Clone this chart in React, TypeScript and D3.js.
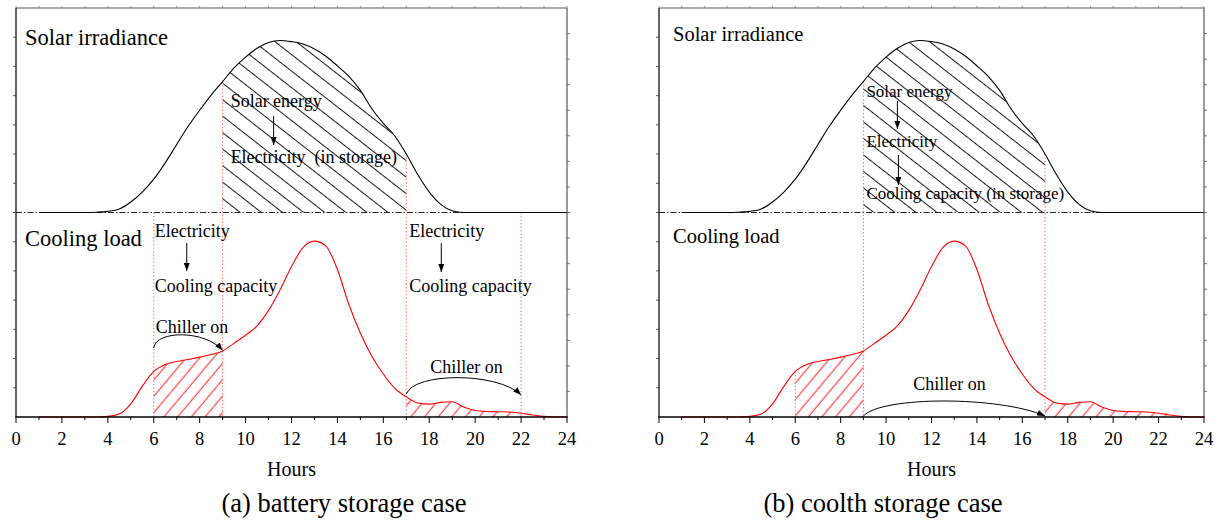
import React from 'react';
import * as d3 from 'd3';

const hours = [1, 1.5, 2, 2.5, 3, 3.5, 4, 4.5, 5, 5.5, 6, 6.5, 7, 7.5, 8, 8.5, 9, 9.5, 10, 10.5, 11, 11.5, 12, 12.5, 13, 13.5, 14, 14.5, 15, 15.5, 16, 16.5, 17, 17.5, 18, 18.5, 19, 19.5, 20, 20.5, 21, 21.5, 22, 22.5, 23, 23.5, 24];
const solarIrradiance = [0, 0, 0, 0, 0, 0.01, 0.04, 0.12, 0.36, 0.70, 1.14, 1.70, 2.33, 2.95, 3.50, 4.02, 4.48, 4.95, 5.32, 5.62, 5.82, 5.89, 5.85, 5.77, 5.60, 5.35, 5.02, 4.66, 4.18, 3.55, 3.05, 2.62, 2.00, 1.30, 0.70, 0.28, 0.06, 0, 0, 0, 0, 0, 0, 0, 0, 0, 0];
const coolingLoad = [0, 0, 0, 0, 0, 0, 0.02, 0.10, 0.45, 1.05, 1.56, 1.80, 1.90, 1.97, 2.05, 2.14, 2.26, 2.53, 2.80, 3.12, 3.65, 4.35, 5.15, 5.80, 6.02, 5.85, 5.05, 3.85, 2.87, 2.08, 1.47, 0.98, 0.69, 0.48, 0.44, 0.50, 0.52, 0.34, 0.22, 0.19, 0.18, 0.17, 0.13, 0.07, 0.02, 0, 0];
const xTickValues = [0, 2, 4, 6, 8, 10, 12, 14, 16, 18, 20, 22, 24];
const xTickLabels = ['0', '2', '4', '6', '8', '10', '12', '14', '16', '18', '20', '22', '24'];
const captions = ['(a) battery storage case', '(b) coolth storage case'];

const TOP = 8;
const MID = 212.5;
const BOT = 417;
const FONT = '"Liberation Serif", "Times New Roman", Times, serif';

const valAt = (arr: number[], h: number) => arr[hours.indexOf(h)];

type Variant = 'a' | 'b';

function Panel({ id, left, right, variant, captionX }: { id: string; left: number; right: number; variant: Variant; captionX: number }) {
  const x = d3.scaleLinear().domain([0, 24]).range([left, right]);
  const yU = d3.scaleLinear().domain([0, 7]).range([MID, TOP]);
  const yL = d3.scaleLinear().domain([0, 7]).range([BOT, MID]);
  const yLeftAxis = d3.scaleLinear().domain([0, 14]).range([BOT, TOP]);
  const yRightAxis = d3.scaleLinear().domain([0, 16]).range([BOT, TOP]);

  const solarPts: [number, number][] = hours.map((h, i) => [h, solarIrradiance[i]]);
  const coolPts: [number, number][] = hours.map((h, i) => [h, coolingLoad[i]]);

  const lineU = d3.line<[number, number]>().x(d => x(d[0])).y(d => yU(d[1])).curve(d3.curveMonotoneX);
  const areaU = d3.area<[number, number]>().x(d => x(d[0])).y0(MID).y1(d => yU(d[1])).curve(d3.curveMonotoneX);
  const lineL = d3.line<[number, number]>().x(d => x(d[0])).y(d => yL(d[1])).curve(d3.curveMonotoneX);
  const areaL = d3.area<[number, number]>().x(d => x(d[0])).y0(BOT).y1(d => yL(d[1])).curve(d3.curveMonotoneX);

  const titleSize = variant === 'a' ? 22.5 : 20.5;
  const annSize = variant === 'a' ? 18 : 17;

  const redRanges: [number, number][] = variant === 'a' ? [[6, 9], [17, 22]] : [[6, 9], [17, 24]];

  const hourTicks = d3.range(0, 25);

  const dotted = (h: number, y1: number, y2: number, key: string) => (
    <line key={key} x1={x(h)} x2={x(h)} y1={y1} y2={y2} stroke="#ff5a5a" strokeWidth={1} strokeDasharray="1.3 2.2" />
  );

  const downArrow = (xx: number, y1: number, y2: number, key: string) => (
    <line key={key} x1={xx} x2={xx} y1={y1} y2={y2} stroke="#000" strokeWidth={1} markerEnd={`url(#${id}-arr)`} />
  );

  const curvedArrow = (h1: number, y1: number, h2: number, y2: number, peak: number, k1: number, k2: number, key: string) => {
    const xa = x(h1), xb = x(h2);
    const c1x = xa + (xb - xa) * k1;
    const c2x = xa + (xb - xa) * k2;
    return <path key={key} d={`M${xa},${y1} C${c1x},${peak} ${c2x},${peak} ${xb},${y2}`} fill="none" stroke="#000" strokeWidth={1} markerEnd={`url(#${id}-arr)`} />;
  };

  const txt = (s: string, tx: number, ty: number, size: number, key: string, anchor = 'start') => (
    <text key={key} x={tx} y={ty} fontSize={size} textAnchor={anchor} style={{ whiteSpace: 'pre' }} fill="#000">{s}</text>
  );

  return (
    <g fontFamily={FONT}>
      <defs>
        <pattern id={`${id}-hb`} patternUnits="userSpaceOnUse" width={40} height={13} patternTransform="rotate(38)">
          <line x1={0} x2={40} y1={6.5} y2={6.5} stroke="#000" strokeWidth={0.9} />
        </pattern>
        <pattern id={`${id}-hr`} patternUnits="userSpaceOnUse" width={40} height={10.5} patternTransform="rotate(-50)">
          <line x1={0} x2={40} y1={5} y2={5} stroke="#ff0000" strokeWidth={0.9} />
        </pattern>
        <clipPath id={`${id}-cs`}>
          <rect x={x(9)} y={TOP} width={x(17) - x(9)} height={MID - TOP} />
        </clipPath>
        {redRanges.map((r, i) => (
          <clipPath key={i} id={`${id}-cr${i}`}>
            <rect x={x(r[0])} y={MID} width={x(r[1]) - x(r[0])} height={BOT - MID} />
          </clipPath>
        ))}
        <marker id={`${id}-arr`} markerUnits="userSpaceOnUse" markerWidth={10} markerHeight={8} refX={8} refY={3} orient="auto">
          <path d="M0,0 L8,3 L0,6 z" fill="#000" />
        </marker>
      </defs>

      {/* hatched areas */}
      <path d={areaU(solarPts) || ''} fill={`url(#${id}-hb)`} clipPath={`url(#${id}-cs)`} />
      {redRanges.map((r, i) => (
        <path key={i} d={areaL(coolPts) || ''} fill={`url(#${id}-hr)`} clipPath={`url(#${id}-cr${i})`} />
      ))}

      {/* divider */}
      <line x1={left} x2={right} y1={MID} y2={MID} stroke="#222" strokeWidth={1} strokeDasharray="6 2 1.5 2" />

      {/* red dotted verticals */}
      {variant === 'a' ? [
        dotted(6, MID, BOT, 'd6'),
        dotted(9, yU(valAt(solarIrradiance, 9)), BOT + 3, 'd9'),
        dotted(17, yU(valAt(solarIrradiance, 17)), BOT, 'd17'),
        dotted(22, MID, BOT, 'd22'),
      ] : [
        dotted(6, yL(valAt(coolingLoad, 6)), BOT, 'd6'),
        dotted(9, yU(valAt(solarIrradiance, 9)), BOT, 'd9'),
        dotted(17, yU(valAt(solarIrradiance, 17)), BOT, 'd17'),
      ]}

      {/* curves */}
      <path d={lineU(solarPts) || ''} fill="none" stroke="#000" strokeWidth={1.1} />
      <path d={lineL(coolPts) || ''} fill="none" stroke="#ff0000" strokeWidth={1.1} />

      {/* frame */}
      <line x1={left} x2={right} y1={TOP} y2={TOP} stroke="#555" strokeWidth={1} />
      <line x1={right} x2={right} y1={TOP} y2={BOT} stroke="#555" strokeWidth={1.2} />
      <line x1={left} x2={left} y1={TOP} y2={BOT} stroke="#000" strokeWidth={1.2} />
      <line x1={left - 0.6} x2={right + 0.6} y1={BOT} y2={BOT} stroke="#000" strokeWidth={1.3} />

      {/* ticks */}
      {hourTicks.map(h => (
        <g key={`t${h}`}>
          <line x1={x(h)} x2={x(h)} y1={BOT} y2={BOT + (h % 2 === 0 ? 6 : 3)} stroke="#000" strokeWidth={1} />
          <line x1={x(h)} x2={x(h)} y1={TOP} y2={TOP - 2} stroke="#777" strokeWidth={0.8} />
        </g>
      ))}
      {d3.range(1, 14).map(v => (
        <line key={`l${v}`} x1={left - 3} x2={left} y1={yLeftAxis(v)} y2={yLeftAxis(v)} stroke="#333" strokeWidth={0.8} />
      ))}
      {d3.range(1, 16).map(v => (
        <line key={`r${v}`} x1={right} x2={right + 3} y1={yRightAxis(v)} y2={yRightAxis(v)} stroke="#555" strokeWidth={0.8} />
      ))}
      {xTickValues.map((v, i) => (
        <text key={`xl${v}`} x={x(v)} y={445} fontSize={18.5} textAnchor="middle" fill="#000">{xTickLabels[i]}</text>
      ))}
      <text x={(left + right) / 2} y={476} fontSize={20} textAnchor="middle" fill="#000">Hours</text>
      <text x={captionX} y={512} fontSize={26.5} textAnchor="middle" fill="#000">{variant === 'a' ? captions[0] : captions[1]}</text>

      {/* annotations */}
      {variant === 'a' ? (
        <g>
          {txt('Solar irradiance', left + 9, 45, titleSize, 'si')}
          {txt('Solar energy', x(9) + 8, 107, annSize, 'se')}
          {downArrow(x(9) + 51, 116, 145, 'a1')}
          {txt('Electricity  (in storage)', x(9) + 8, 163, annSize, 'el')}
          {txt('Cooling load', left + 9, 246, titleSize, 'cl')}
          {txt('Electricity', x(6) + 1, 237, annSize, 'e2')}
          {downArrow(x(6) + 33, 243, 271, 'a2')}
          {txt('Cooling capacity', x(6) + 1, 292, annSize, 'cc')}
          {txt('Chiller on', x(6) + 2, 333, annSize, 'ch')}
          {curvedArrow(6, 348, 9, yL(valAt(coolingLoad, 9)) - 0.5, 330, 0.03, 0.75, 'ca1')}
          {txt('Electricity', x(17) + 3, 237, annSize, 'e3')}
          {downArrow(x(17) + 35, 243, 272, 'a3')}
          {txt('Cooling capacity', x(17) + 3, 292, annSize, 'cc2')}
          {txt('Chiller on', x(17) + 24, 373, annSize, 'ch2')}
          {curvedArrow(17, 394, 22, 395, 372, 0.07, 0.8, 'ca2')}
        </g>
      ) : (
        <g>
          {txt('Solar irradiance', left + 14, 41, titleSize, 'si')}
          {txt('Solar energy', x(9) + 3, 97, annSize, 'se')}
          {downArrow(x(9) + 34, 101, 129, 'a1')}
          {txt('Electricity', x(9) + 3, 147, annSize, 'el')}
          {downArrow(x(9) + 35, 155, 185, 'a2')}
          {txt('Cooling capacity (in storage)', x(9) + 3, 199, annSize, 'cc')}
          {txt('Cooling load', left + 14, 243, titleSize, 'cl')}
          {txt('Chiller on', x(11.2), 390, 18, 'ch')}
          {curvedArrow(9, 416, 17, 416, 396, 0.1, 0.75, 'ca')}
        </g>
      )}
    </g>
  );
}

export default function App() {
  return (
    <svg width={1220} height={524} style={{ position: 'absolute', left: 0, top: 0, background: '#fff' }}>
      <rect x={0} y={0} width={1220} height={524} fill="#fff" />
      <Panel id="pa" left={16} right={567} variant="a" captionX={344} />
      <Panel id="pb" left={659} right={1204} variant="b" captionX={883} />
    </svg>
  );
}
